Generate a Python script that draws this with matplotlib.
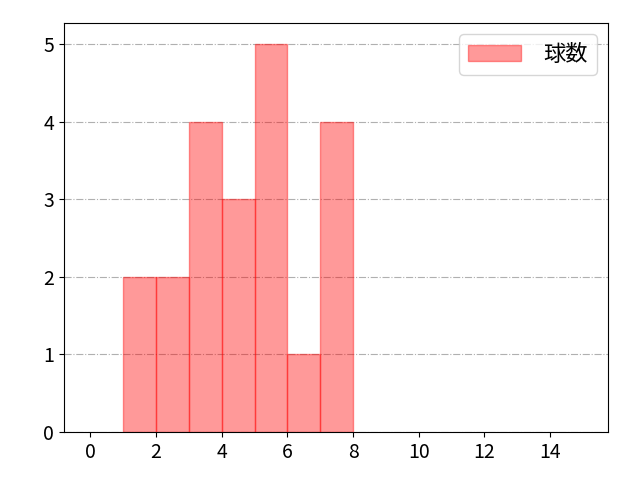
import numpy as np
import matplotlib
matplotlib.use('Agg')
import matplotlib.pyplot as plt

plt.rcParams['font.family'] = ['Noto Sans CJK JP', 'DejaVu Sans']

# bin left edges and counts (pitch count histogram)
bin_left = [1, 2, 3, 4, 5, 6, 7]
counts = [2, 2, 4, 3, 5, 1, 4]
label = '球数'

fig, ax = plt.subplots(figsize=(6.4, 4.8), dpi=100)
fig.subplots_adjust(left=0.1, right=0.95, top=0.952, bottom=0.1)
ax.bar(bin_left, counts, width=1.0, align='edge', color='red', alpha=0.4,
       edgecolor='red', linewidth=1.0, label=label, zorder=2)
ax.set_xlim(-0.8, 15.76)
ax.set_ylim(0, 5.27)
ax.set_xticks(np.arange(0, 15, 2))
ax.set_yticks(np.arange(0, 6, 1))
ax.tick_params(labelsize=14)
ax.grid(axis='y', linestyle='-.', color='#b0b0b0', linewidth=0.8, zorder=0)
ax.set_axisbelow(True)
ax.legend(loc='upper right', fontsize=16, handlelength=2.4, handletextpad=1.0)
fig.savefig('out.png', dpi=100)
